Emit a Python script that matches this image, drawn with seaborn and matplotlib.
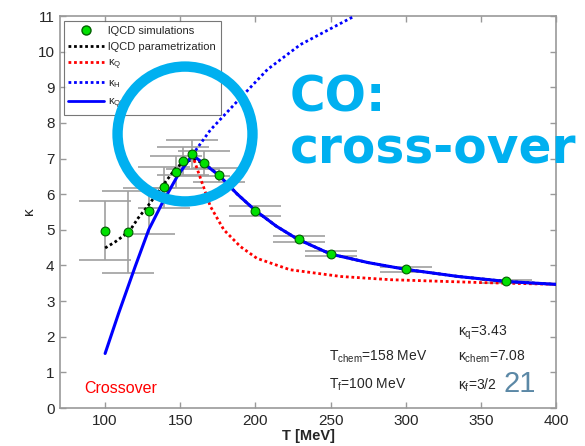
import matplotlib
matplotlib.use('Agg')
import matplotlib.pyplot as plt
from matplotlib.patches import Ellipse
from matplotlib.lines import Line2D
import numpy as np
import pandas as pd
import seaborn as sns

# lattice QCD points (T in MeV, kappa, error)
T_pts = [100, 115, 129, 139, 147, 152, 158, 166, 176, 200, 229, 250, 300, 367]
k_pts = [4.98, 4.95, 5.53, 6.19, 6.63, 6.93, 7.12, 6.87, 6.53, 5.52, 4.75, 4.33, 3.89, 3.55]
k_err = [0.84, 1.15, 0.65, 0.58, 0.45, 0.40, 0.40, 0.35, 0.20, 0.14, 0.08, 0.07, 0.06, 0.05]

# lQCD parametrization
T_par = [100, 107, 116, 122, 129, 138, 147, 153, 160, 167, 176, 188, 200, 214, 228, 250, 275, 300, 335, 367, 400]
k_par = [4.49, 4.67, 4.95, 5.33, 5.70, 6.22, 6.73, 6.92, 6.97, 6.83, 6.52, 6.00, 5.54, 5.10, 4.74, 4.32, 4.08, 3.89, 3.69, 3.55, 3.47]

# kappa_Q (quark phase)
T_Q = [158, 163, 170, 179, 190, 201, 223, 257, 290, 350, 400]
k_Q = [7.10, 6.50, 5.66, 5.00, 4.53, 4.20, 3.88, 3.69, 3.60, 3.52, 3.47]

# kappa_H (hadron phase)
T_H = [158, 170, 190, 208, 230, 266]
k_H = [7.10, 7.80, 8.70, 9.50, 10.20, 11.0]

# kappa_QH (cross-over)
T_QH = [100, 109, 120, 129, 138, 148, 158, 166, 176, 188, 200, 214, 228, 250, 275, 300, 335, 367, 400]
k_QH = [1.53, 2.66, 3.97, 5.00, 5.75, 6.50, 7.10, 6.85, 6.52, 6.00, 5.54, 5.10, 4.74, 4.32, 4.08, 3.89, 3.69, 3.55, 3.47]

sns.set_style('ticks')
plt.rcParams['font.family'] = ['Liberation Sans', 'DejaVu Sans']
plt.rcParams['mathtext.fontset'] = 'custom'
plt.rcParams['mathtext.rm'] = 'Liberation Sans'
plt.rcParams['mathtext.it'] = 'Liberation Sans'

fig = plt.figure(figsize=(5.85, 4.46), dpi=100)
ax = fig.add_axes([0.1026, 0.0852, 0.8479, 0.8789])
ax.grid(False)

dots = (0, (1, 1))

pts = pd.DataFrame({'T': T_pts, 'k': k_pts, 'err': k_err})
ax.errorbar(pts['T'], pts['k'], yerr=pts['err'], fmt='none', ecolor='#a0a0a0',
            elinewidth=1.2, capsize=19, capthick=1.2, zorder=2)

sns.lineplot(x=T_par, y=k_par, ax=ax, color='black', linestyle=dots, lw=2,
             sort=False, estimator=None, zorder=3)
sns.lineplot(x=T_Q, y=k_Q, ax=ax, color='#ff0000', linestyle=dots, lw=2,
             sort=False, estimator=None, zorder=3)
sns.lineplot(x=T_H, y=k_H, ax=ax, color='#0000ff', linestyle=dots, lw=2,
             sort=False, estimator=None, zorder=3)
sns.lineplot(x=T_QH, y=k_QH, ax=ax, color='#0000ff', linestyle='-', lw=2.2,
             sort=False, estimator=None, zorder=4)
sns.scatterplot(data=pts, x='T', y='k', ax=ax, color='#00e000', edgecolor='#006000',
                s=40, linewidth=0.8, zorder=5)

ax.set_xlim(70, 400)
ax.set_ylim(0, 11)
ax.set_xticks([100, 150, 200, 250, 300, 350, 400])
ax.set_yticks(range(0, 12))
ax.tick_params(direction='in', top=True, right=True, length=4, width=1,
               color='#999999', labelsize=11, pad=4)
for s in ax.spines.values():
    s.set_color('#999999')
    s.set_linewidth(1.2)
ax.set_xlabel('T [MeV]', fontsize=10.5, fontweight='bold', labelpad=1)
ax.set_ylabel(r'$\kappa$', fontsize=11, labelpad=0)

handles = [
    Line2D([], [], marker='o', ls='none', mfc='#00e000', mec='#006000', ms=6.5),
    Line2D([], [], color='black', ls=dots, lw=2),
    Line2D([], [], color='#ff0000', ls=dots, lw=2),
    Line2D([], [], color='#0000ff', ls=dots, lw=2),
    Line2D([], [], color='#0000ff', ls='-', lw=2),
]
labels = ['lQCD simulations', 'lQCD parametrization', r'$\kappa_Q$', r'$\kappa_H$', r'$\kappa_{QH}$']
leg = ax.legend(handles, labels, loc='upper left', bbox_to_anchor=(0.008, 0.987),
                borderaxespad=0, fontsize=8, frameon=True, fancybox=False,
                handlelength=3.2, handletextpad=0.4, labelspacing=0.55,
                borderpad=0.4)
leg.get_frame().set_edgecolor('#555555')
leg.get_frame().set_linewidth(0.8)

ax.text(335, 2.1, r'$\kappa_q$=3.43', fontsize=10, va='center')
ax.text(249, 1.43, r'T$_{chem}$=158 MeV', fontsize=10, va='center')
ax.text(335, 1.43, r'$\kappa_{chem}$=7.08', fontsize=10, va='center')
ax.text(249, 0.65, r'T$_f$=100 MeV', fontsize=10, va='center')
ax.text(335, 0.65, r'$\kappa_f$=3/2', fontsize=10, va='center')
ax.text(86, 0.55, 'Crossover', fontsize=11.5, color='#ff0000', va='center')
ax.text(365, 0.68, '21', fontsize=21, color='#5b88a6', va='center')

ax.add_patch(Ellipse((0.252, 0.699), 0.272, 0.344, transform=ax.transAxes,
                     fill=False, edgecolor='#00b0f0', lw=7.5, clip_on=False, zorder=10))
fig.text(290 / 585, 1 - 112 / 446, 'CO:', fontsize=35, fontweight='bold',
         color='#00b0f0', family='DejaVu Sans', va='baseline', zorder=11)
fig.text(290 / 585, 1 - 163 / 446, 'cross-over', fontsize=35, fontweight='bold',
         color='#00b0f0', family='DejaVu Sans', va='baseline', zorder=11)

fig.savefig('out.png', dpi=100)
